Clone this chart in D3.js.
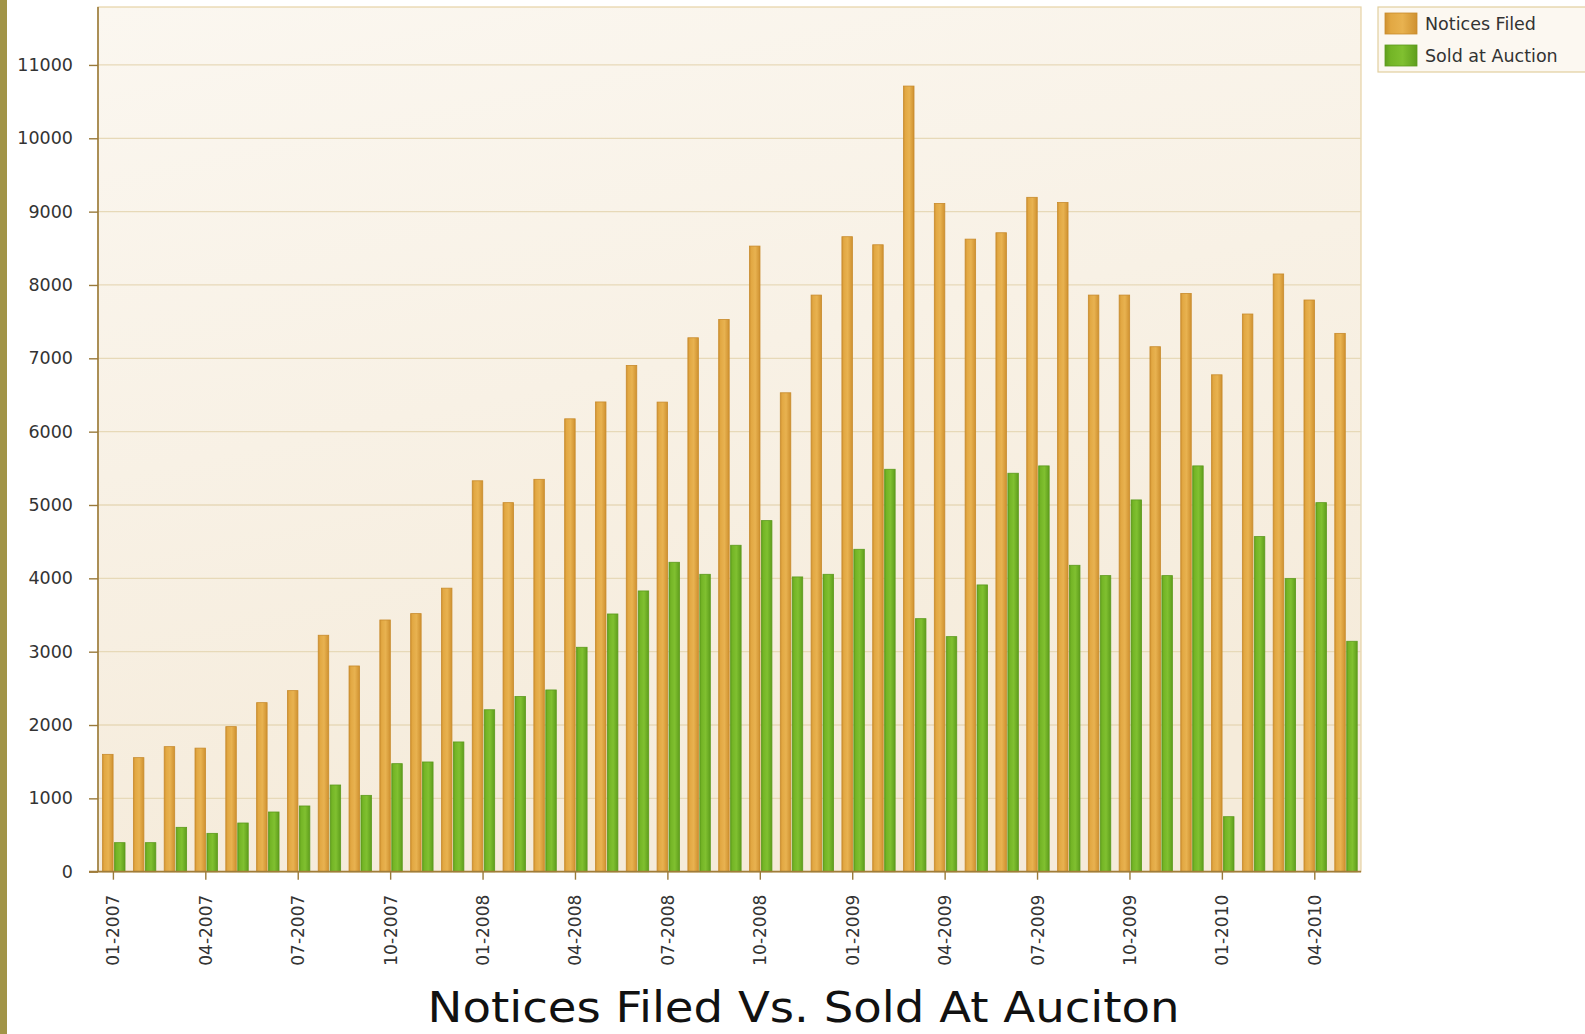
<!DOCTYPE html>
<html>
<head>
<meta charset="utf-8">
<script src="https://cdn.jsdelivr.net/npm/d3@7"></script>
<style>
  html, body { margin: 0; padding: 0; background: #ffffff; }
  svg { display: block; }
  text { font-family: "DejaVu Sans", Verdana, sans-serif; }
</style>
</head>
<body>
<svg id="chart" width="1585" height="1034"></svg>
<script>
// ---- data ----
const months = [
  "01-2007","02-2007","03-2007","04-2007","05-2007","06-2007","07-2007","08-2007","09-2007","10-2007","11-2007","12-2007",
  "01-2008","02-2008","03-2008","04-2008","05-2008","06-2008","07-2008","08-2008","09-2008","10-2008","11-2008","12-2008",
  "01-2009","02-2009","03-2009","04-2009","05-2009","06-2009","07-2009","08-2009","09-2009","10-2009","11-2009","12-2009",
  "01-2010","02-2010","03-2010","04-2010","05-2010"
];
const noticesFiled = [
  1600, 1555, 1705, 1685, 1978, 2305, 2469, 3224, 2805, 3432, 3519, 3866,
  5330, 5032, 5350, 6175, 6405, 6903, 6403, 7280, 7530, 8530, 6530, 7862,
  8658, 8548, 10712, 9112, 8625, 8712, 9195, 9125, 7862, 7862, 7158, 7885,
  6775, 7604, 8150, 7795, 7340
];
const soldAtAuction = [
  396, 396, 605, 523, 664, 814, 896, 1182, 1041, 1473, 1496, 1769,
  2208, 2388, 2478, 3060, 3514, 3828, 4219, 4055, 4451, 4787, 4019, 4055,
  4396, 5487, 3450, 3205, 3910, 5433, 5533, 4178, 4037, 5069, 4037, 5533,
  750, 4569, 3996, 5032, 3142
];
const seriesNames = ["Notices Filed", "Sold at Auction"];
const xTickLabels = ["01-2007","04-2007","07-2007","10-2007","01-2008","04-2008","07-2008","10-2008","01-2009","04-2009","07-2009","10-2009","01-2010","04-2010"];
const yTickValues = [0,1000,2000,3000,4000,5000,6000,7000,8000,9000,10000,11000];
const yMax = 11790;
const chartTitle = "Notices Filed Vs. Sold At Auciton";

// ---- layout ----
const W = 1585, H = 1034;
const plot = { left: 98, right: 1361, top: 7, bottom: 871.7 };

const svg = d3.select("#chart");
const defs = svg.append("defs");

const bg = defs.append("linearGradient").attr("id","bgGrad").attr("x1","0").attr("y1","0").attr("x2","0.3").attr("y2","1");
bg.append("stop").attr("offset","0%").attr("stop-color","#fbf7f0");
bg.append("stop").attr("offset","100%").attr("stop-color","#f5ebda");

function barGrad(id, edge, mid, light) {
  const g = defs.append("linearGradient").attr("id", id).attr("x1","0").attr("y1","0").attr("x2","1").attr("y2","0");
  g.append("stop").attr("offset","0%").attr("stop-color", edge);
  g.append("stop").attr("offset","18%").attr("stop-color", mid);
  g.append("stop").attr("offset","55%").attr("stop-color", light);
  g.append("stop").attr("offset","100%").attr("stop-color", edge);
}
barGrad("gOrange", "#cf9130", "#e2a843", "#e8b250");
barGrad("gGreen", "#5f9e1c", "#74b526", "#80c030");

const colors = { "Notices Filed": "url(#gOrange)", "Sold at Auction": "url(#gGreen)" };
const strokes = { "Notices Filed": "#c88b2c", "Sold at Auction": "#5c9a1c" };

// left gold strip
svg.append("rect").attr("x",0).attr("y",0).attr("width",7).attr("height",H).attr("fill","#a19447");

// scales
const x0 = d3.scaleBand().domain(months).range([plot.left, plot.right]).padding(0);
const x1 = d3.scaleBand().domain(seriesNames).range([x0.bandwidth()*0.149, x0.bandwidth()*0.877]).paddingInner(0.12);
const y = d3.scaleLinear().domain([0, yMax]).range([plot.bottom, plot.top]);

// plot background
svg.append("rect")
  .attr("x", plot.left).attr("y", plot.top)
  .attr("width", plot.right - plot.left).attr("height", plot.bottom - plot.top)
  .attr("fill", "url(#bgGrad)")
  .attr("stroke", "#e6d3a6").attr("stroke-width", 1.2);

// gridlines
svg.append("g").selectAll("line")
  .data(yTickValues.filter(d => d > 0))
  .join("line")
  .attr("x1", plot.left).attr("x2", plot.right)
  .attr("y1", d => y(d)).attr("y2", d => y(d))
  .attr("stroke", "#e7d9b8").attr("stroke-width", 1.3);

// bars
const rows = months.map((m, i) => ({ month: m, values: [
  { key: seriesNames[0], value: noticesFiled[i] },
  { key: seriesNames[1], value: soldAtAuction[i] }
]}));

const groups = svg.append("g").selectAll("g")
  .data(rows).join("g")
  .attr("transform", d => `translate(${x0(d.month)},0)`);

groups.selectAll("rect")
  .data(d => d.values).join("rect")
  .attr("x", d => x1(d.key))
  .attr("width", x1.bandwidth())
  .attr("y", d => y(d.value))
  .attr("height", d => y(0) - y(d.value))
  .attr("fill", d => colors[d.key])
  .attr("stroke", d => strokes[d.key])
  .attr("stroke-width", 0.8);

// y axis
const yAxis = d3.axisLeft(y).tickValues(yTickValues).tickSize(9).tickPadding(16).tickFormat(d3.format("d"));
const gy = svg.append("g").attr("transform", `translate(${plot.left},0)`).call(yAxis);
gy.select(".domain").attr("stroke", "#9a7a3a").attr("stroke-width", 1.6).attr("d", `M0,${plot.top}V${plot.bottom}`);
gy.selectAll(".tick line").attr("stroke", "#9a7a3a").attr("stroke-width", 1.4);
gy.selectAll(".tick text").attr("fill", "#333333").attr("font-size", "17.5px")
  .attr("font-family", "'DejaVu Sans', Verdana, sans-serif");

// x axis
const xAxis = d3.axisBottom(x0).tickValues(xTickLabels).tickSize(8).tickPadding(0);
const gx = svg.append("g").attr("transform", `translate(0,${plot.bottom})`).call(xAxis);
gx.select(".domain").attr("stroke", "#a07c3a").attr("stroke-width", 1.8).attr("d", `M${plot.left - 9},0H${plot.right}`);
gx.selectAll(".tick line").attr("stroke", "#9a7a3a").attr("stroke-width", 1.4);
gx.selectAll(".tick text")
  .attr("fill", "#333333").attr("font-size", "17px")
  .attr("font-family", "'DejaVu Sans', Verdana, sans-serif")
  .attr("text-anchor", "end")
  .attr("dy", "0.35em")
  .attr("transform", "translate(0,23) rotate(-90)")
  .attr("x", 0).attr("y", 0);

// legend
const lg = svg.append("g");
lg.append("rect").attr("x", 1378).attr("y", 7).attr("width", 220).attr("height", 65)
  .attr("fill", "#fcf8f1").attr("stroke", "#e2cf9f").attr("stroke-width", 1.2);
seriesNames.forEach((s, i) => {
  const yy = 13 + i * 32;
  lg.append("rect").attr("x", 1385).attr("y", yy).attr("width", 32).attr("height", 21)
    .attr("fill", colors[s]).attr("stroke", strokes[s]).attr("stroke-width", 0.8);
  lg.append("text").attr("x", 1425).attr("y", yy + 11).attr("dy", "0.35em")
    .attr("font-size", "17.5px").attr("fill", "#333333").text(s);
});

// title
svg.append("text")
  .attr("x", 803.6).attr("y", 1021.5)
  .attr("text-anchor", "middle")
  .attr("font-size", "43px")
  .attr("fill", "#111111")
  .attr("textLength", 752).attr("lengthAdjust", "spacingAndGlyphs")
  .text(chartTitle);
</script>
</body>
</html>
